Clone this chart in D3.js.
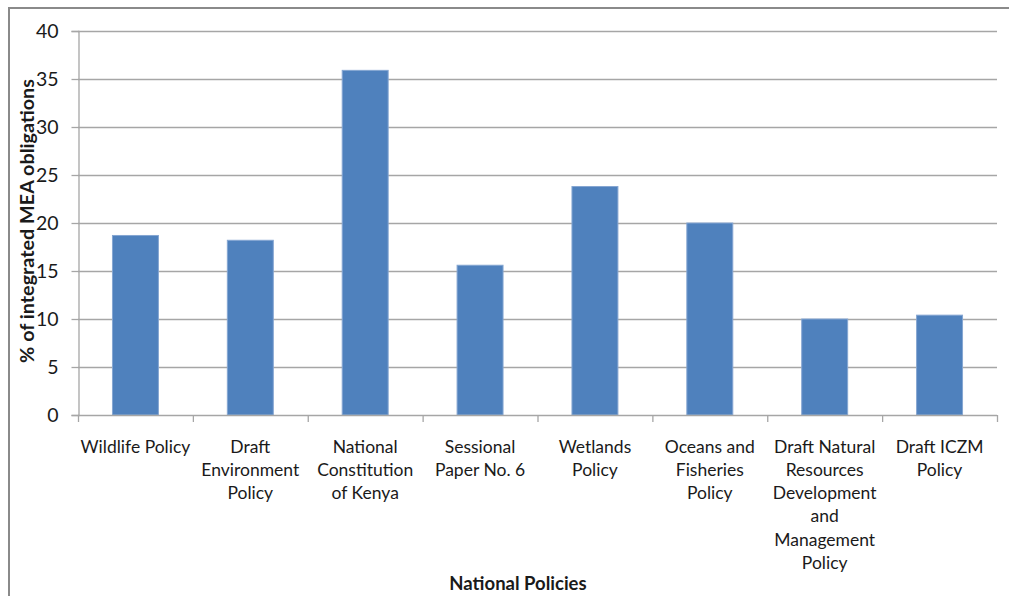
<!DOCTYPE html>
<html>
<head>
<meta charset="utf-8">
<script src="https://cdn.jsdelivr.net/npm/d3@7"></script>
<style>
  html, body { margin: 0; padding: 0; background: #fff; }
  svg { display: block; }
  text { font-family: Lato, "Open Sans", "Liberation Sans", sans-serif; fill: #1a1a1a; }
</style>
</head>
<body>
<svg id="chart" width="1009" height="596"></svg>
<script>
// Share of integrated MEA obligations per national policy
const categories = [
  ["Wildlife Policy"],
  ["Draft", "Environment", "Policy"],
  ["National", "Constitution", "of Kenya"],
  ["Sessional", "Paper No. 6"],
  ["Wetlands", "Policy"],
  ["Oceans and", "Fisheries", "Policy"],
  ["Draft Natural", "Resources", "Development", "and", "Management", "Policy"],
  ["Draft ICZM", "Policy"]
];
const values = [18.7, 18.2, 35.9, 15.6, 23.8, 20.0, 10.0, 10.4];
const yTicks = [0, 5, 10, 15, 20, 25, 30, 35, 40];
const xTitle = "National Policies";
const yTitle = "% of integrated MEA obligations";

const svg = d3.select("#chart");

// outer frame (top and left edges)
svg.append("path")
  .attr("d", "M9,1000 V8 H1009")
  .attr("fill", "none")
  .attr("stroke", "#8a8a8a")
  .attr("stroke-width", 2);

const plot = { left: 78, right: 997, top: 31, bottom: 415 };
const keys = categories.map((c, i) => i);

const x = d3.scaleBand().domain(keys).range([plot.left, plot.right]).paddingInner(0.6).paddingOuter(0.3);
const xCat = d3.scaleBand().domain(keys).range([plot.left, plot.right]);
const y = d3.scaleLinear().domain([0, 40]).range([plot.bottom, plot.top]);

// horizontal gridlines
svg.append("g")
  .selectAll("line")
  .data(yTicks.filter(t => t > 0))
  .join("line")
  .attr("x1", plot.left).attr("x2", plot.right)
  .attr("y1", d => y(d) + 0.5).attr("y2", d => y(d) + 0.5)
  .attr("stroke", "#a6a6a6").attr("stroke-width", 1.3);

// bars
svg.append("g")
  .selectAll("rect")
  .data(values)
  .join("rect")
  .attr("x", (d, i) => x(i))
  .attr("width", x.bandwidth())
  .attr("y", d => y(d))
  .attr("height", d => y(0) - y(d))
  .attr("fill", "#4f81bd")
  .attr("stroke", "#85a6d2")
  .attr("stroke-width", 1);

// y axis
const yAxis = svg.append("g")
  .attr("transform", `translate(${plot.left + 0.5},0)`)
  .call(d3.axisLeft(y).tickValues(yTicks).tickSize(7).tickPadding(13).tickFormat(d3.format("d")));
yAxis.select(".domain").attr("stroke", "#a6a6a6").attr("stroke-width", 1.3);
yAxis.selectAll(".tick line").attr("stroke", "#a6a6a6").attr("stroke-width", 1.3);
yAxis.selectAll(".tick text")
  .attr("font-size", 19.5)
  .attr("fill", "#1a1a1a")
  .style("font-family", "Lato, 'Open Sans', sans-serif");

// x axis baseline and category ticks
const xg = svg.append("g");
xg.append("line")
  .attr("x1", plot.left).attr("x2", plot.right)
  .attr("y1", y(0) + 0.5).attr("y2", y(0) + 0.5)
  .attr("stroke", "#a6a6a6").attr("stroke-width", 1.3);
xg.selectAll("line.tk")
  .data(keys.concat([keys.length]))
  .join("line")
  .attr("class", "tk")
  .attr("x1", d => (d < keys.length ? xCat(d) : plot.right) + 0.5)
  .attr("x2", d => (d < keys.length ? xCat(d) : plot.right) + 0.5)
  .attr("y1", y(0)).attr("y2", y(0) + 7)
  .attr("stroke", "#a6a6a6").attr("stroke-width", 1.3);

// category labels
const lab = svg.append("g")
  .selectAll("text")
  .data(categories)
  .join("text")
  .attr("text-anchor", "middle")
  .attr("font-size", 17.5)
  .attr("x", (d, i) => xCat(i) + xCat.bandwidth() / 2)
  .attr("y", 452.5);
lab.selectAll("tspan")
  .data(d => d)
  .join("tspan")
  .attr("x", function () { return this.parentNode.getAttribute("x"); })
  .attr("dy", (d, i) => i === 0 ? 0 : 23.3)
  .text(d => d);

// axis titles
svg.append("text")
  .attr("x", 518).attr("y", 590)
  .attr("text-anchor", "middle")
  .attr("font-size", 18.5)
  .attr("font-weight", "bold")
  .text(xTitle);

svg.append("text")
  .attr("transform", "translate(34,221) rotate(-90)")
  .attr("text-anchor", "middle")
  .attr("font-size", 19.8)
  .attr("font-weight", "bold")
  .text(yTitle);
</script>
</body>
</html>
